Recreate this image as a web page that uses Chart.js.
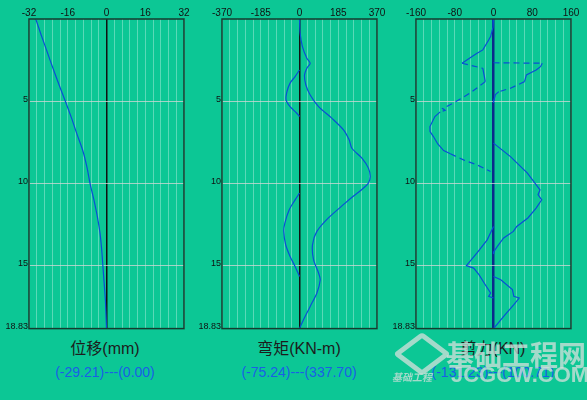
<!DOCTYPE html>
<html>
<head>
<meta charset="utf-8">
<script src="https://cdn.jsdelivr.net/npm/chart.js@4.4.0/dist/chart.umd.min.js"></script>
<style>
  body { margin: 0; width: 587px; height: 400px; overflow: hidden; position: relative;
         background: #0cc795; font-family: "Liberation Sans", Arial, sans-serif; }
  canvas { position: absolute; top: 0; }
  .title { position: absolute; top: 335px; width: 196px; text-align: center; font-size: 16px;
           color: #1c1c1c; font-family: "Liberation Sans", "Noto Sans CJK SC", sans-serif; }
  .range { position: absolute; top: 364px; width: 196px; text-align: center; font-size: 14px;
           color: #1a5ee6; }
  .wm { position: absolute; color: rgba(215, 224, 220, 0.75); font-weight: bold; white-space: nowrap; }
  .logo { position: absolute; left: 404px; top: 336px; width: 26px; height: 26px; border: 5px solid rgba(215,224,220,0.75);
          border-radius: 4px; transform: rotate(45deg) skew(-8deg, -8deg); }
</style>
</head>
<body>
<canvas id="c1" width="195" height="335" style="left:0px"></canvas>
<canvas id="c2" width="195" height="335" style="left:193px"></canvas>
<canvas id="c3" width="194" height="335" style="left:387px"></canvas>

<div class="title" style="left:7px">位移(mm)</div>
<div class="range" style="left:7px">(-29.21)---(0.00)</div>
<div class="title" style="left:201px">弯矩(KN-m)</div>
<div class="range" style="left:201px">(-75.24)---(337.70)</div>
<div class="title" style="left:395px">剪力(KN)</div>
<div class="range" style="left:395px">(-131.23)---(100.71)</div>

<div class="logo"></div>
<div class="wm" style="left:446px; top:334px; font-size:28px; font-family:'Noto Sans CJK SC'">基础工程网</div>
<div class="wm" style="left:451px; top:362px; font-size:22px; font-family:'Liberation Sans'">JCGCW.COM</div>
<div class="wm" style="left:392px; top:369px; font-size:10px; font-family:'Noto Sans CJK SC'; font-style:italic">基础工程</div>

<script>
// === DATA ===
const pileDepth = 18.83;
const depthTicks = [5, 10, 15, 18.83];

// displacement (mm)
const dispTicks = [-32, -16, 0, 16, 32];
const dispDepth = [0, 1, 2, 3, 4, 5, 6, 7, 8, 9, 10, 11, 12, 13, 14, 15, 16, 17, 18, 18.83];
const dispValue = [-29.21, -26.9, -24.5, -22.1, -19.6, -17.0, -14.5, -12.2, -9.8, -8.1, -6.8, -5.2, -3.8, -2.7, -2.0, -1.5, -1.0, -0.5, -0.2, 0];

// bending moment (KN-m)
const momentTicks = [-370, -185, 0, 185, 370];
const momentMaxDepth = [0, 0.87, 1.68, 2.39, 2.69, 3.0, 3.4, 4.0, 4.62, 5.33, 6.03, 6.74, 7.35, 7.86, 8.46, 9.07, 9.58, 10.0, 10.4, 10.8, 11.2, 12.1, 12.92, 13.73, 14.64, 15.45, 15.86, 16.66, 17.48, 18.29, 18.83];
const momentMax = [0, 3, 14, 35, 51, 35, 24, 30, 51, 91, 154, 210, 237, 250, 298, 329, 337.7, 328, 295, 255, 218, 138, 83, 62, 67, 91, 99, 83, 51, 19, 0];
const momentMinDepth1 = [3.1, 3.5, 3.9, 4.42, 4.92, 5.33, 5.73, 5.93];
const momentMin1 = [0, -21, -45, -60, -64, -45, -13, 0];
const momentMinDepth2 = [10.59, 11.0, 11.6, 12.41, 12.9, 13.73, 14.44, 15.05, 15.66];
const momentMin2 = [0, -21, -49, -70, -75.24, -66, -45, -21, 0];

// shear force (KN)
const shearTicks = [-160, -80, 0, 80, 160];
const shearMinDepthA = [0, 0.5, 1.07, 1.28, 1.88, 2.08, 2.29, 2.69];
const shearMinA = [0, -1, -6, -10, -22, -34, -45, -65];
const shearMinDepthB = [2.69, 3.0];
const shearMinB = [-65, -22];
const shearMinDepthC = [3.0, 3.81];
const shearMinC = [-22, -17];
const shearMinDepthD = [3.81, 4.5, 5.1, 5.45, 5.55, 5.65];
const shearMinD = [-17, -48, -82, -105, -100, -110];
const shearMinDepthE = [5.65, 5.93, 6.54, 6.85, 7.15, 7.6, 8.0, 8.2];
const shearMinE = [-110, -121, -131.23, -131, -124, -115, -103, -89];
const shearMinDepthF = [8.2, 8.57, 8.87, 9.28];
const shearMinF = [-89, -62, -34, -6];
const shearMinDepthG = [12.62, 13.43, 14.23, 15.0, 15.15, 15.55, 16.16, 16.66, 16.87, 16.97];
const shearMinG = [0, -13, -34, -56, -41, -30, -17, -6, -10, 0];
const shearMaxDepthH = [2.66, 2.69];
const shearMaxH = [0, 100.71];
const shearMaxDepthI = [2.69, 2.9, 3.1, 3.4, 3.81];
const shearMaxI = [100.71, 97, 88, 68, 64];
const shearMaxDepthJ = [3.81, 4.21, 4.42];
const shearMaxJ = [64, 35, 11];
const shearMaxDepthK = [4.42, 4.6, 4.92, 5.1];
const shearMaxK = [11, 4, 1, 0];
const shearMaxDepthL = [7.55, 8.37, 9.37, 10.39, 10.69, 11.0, 11.5, 12.1, 12.62, 12.92, 13.32, 13.83, 14.14, 14.3];
const shearMaxL = [0, 35, 70, 96, 92, 99.5, 88, 71, 48, 41, 21, 8, 1, 0];
const shearMaxDepthM = [15.66, 15.86, 16.46, 16.87, 16.97, 17.37, 18.08, 18.83];
const shearMaxM = [0, 15, 39, 42, 53, 42, 21, 0];

// === HELPERS ===
const curveColor = '#0a4fd6';
const frameColor = '#143c2f';

const toPoints = (depths, values) => depths.map((d, i) => ({ x: values[i], y: d }));

const series = (depths, values, dashed, tension) => ({
    data: toPoints(depths, values),
    showLine: true,
    borderColor: curveColor,
    borderWidth: 1.2,
    borderDash: dashed ? [6, 4] : [],
    pointRadius: 0,
    tension: tension || 0,
    fill: false
});

// plot frame on top of the grid
const framePlugin = {
    id: 'frame',
    afterDraw(chart) {
        const { ctx, chartArea: a } = chart;
        ctx.save();
        ctx.strokeStyle = frameColor;
        ctx.lineWidth = 1.5;
        ctx.strokeRect(a.left, a.top, a.right - a.left, a.bottom - a.top);
        ctx.restore();
    }
};

const makePanel = (id, ticks, datasets, zeroColor, zeroWidth) => {
    const min = ticks[0], max = ticks[ticks.length - 1];
    const grid = Array.from({ length: 21 }, (_, i) => min + i * (max - min) / 20);
    const canvas = document.getElementById(id);
    return new Chart(canvas, {
        type: 'scatter',
        data: { datasets: datasets },
        options: {
            responsive: false,
            animation: false,
            layout: { padding: { left: 0, right: canvas.width - 29 - 155, top: 0, bottom: 6 } },
            plugins: { legend: { display: false }, tooltip: { enabled: false } },
            scales: {
                x: {
                    type: 'linear',
                    position: 'top',
                    min: min,
                    max: max,
                    afterBuildTicks: s => { s.ticks = grid.map(v => ({ value: v })); },
                    afterFit: s => { s.height = 19; },
                    border: { display: false },
                    grid: {
                        drawTicks: false,
                        color: c => Math.abs(c.tick.value) < 1e-9 ? zeroColor : 'rgba(255,255,255,0.32)',
                        lineWidth: c => Math.abs(c.tick.value) < 1e-9 ? zeroWidth : 1
                    },
                    ticks: {
                        autoSkip: false,
                        maxRotation: 0,
                        padding: 0,
                        color: '#111',
                        font: { size: 10, family: 'Liberation Sans' },
                        callback: v => {
                            const t = ticks.find(l => Math.abs(l - v) < 1e-6);
                            return t === undefined ? '' : String(t);
                        }
                    }
                },
                y: {
                    type: 'linear',
                    reverse: true,
                    min: 0,
                    max: pileDepth,
                    afterBuildTicks: s => { s.ticks = depthTicks.map(v => ({ value: v })); },
                    afterFit: s => { s.width = 29; },
                    border: { display: false },
                    grid: {
                        drawTicks: false,
                        color: c => c.tick.value >= pileDepth ? 'rgba(0,0,0,0)' : 'rgba(215,215,215,0.75)'
                    },
                    ticks: {
                        padding: 1,
                        labelOffset: -2,
                        color: '#111',
                        font: { size: 9, family: 'Liberation Sans' },
                        callback: v => String(v)
                    }
                }
            }
        },
        plugins: [framePlugin]
    });
};

// === PANELS ===
makePanel('c1', dispTicks, [
    series(dispDepth, dispValue, false, 0.3)
], '#111', 1.5);

makePanel('c2', momentTicks, [
    series(momentMaxDepth, momentMax, false, 0.3),
    series(momentMinDepth1, momentMin1, false, 0.3),
    series(momentMinDepth2, momentMin2, false, 0.3)
], '#111', 1.5);

makePanel('c3', shearTicks, [
    series(shearMinDepthA, shearMinA, false),
    series(shearMinDepthB, shearMinB, true),
    series(shearMinDepthC, shearMinC, false),
    series(shearMinDepthD, shearMinD, true),
    series(shearMinDepthE, shearMinE, false),
    series(shearMinDepthF, shearMinF, true),
    series(shearMinDepthG, shearMinG, false),
    series(shearMaxDepthH, shearMaxH, true),
    series(shearMaxDepthI, shearMaxI, false),
    series(shearMaxDepthJ, shearMaxJ, true),
    series(shearMaxDepthK, shearMaxK, false),
    series(shearMaxDepthL, shearMaxL, false),
    series(shearMaxDepthM, shearMaxM, false)
], '#0b2a8c', 2.5);
</script>
</body>
</html>
